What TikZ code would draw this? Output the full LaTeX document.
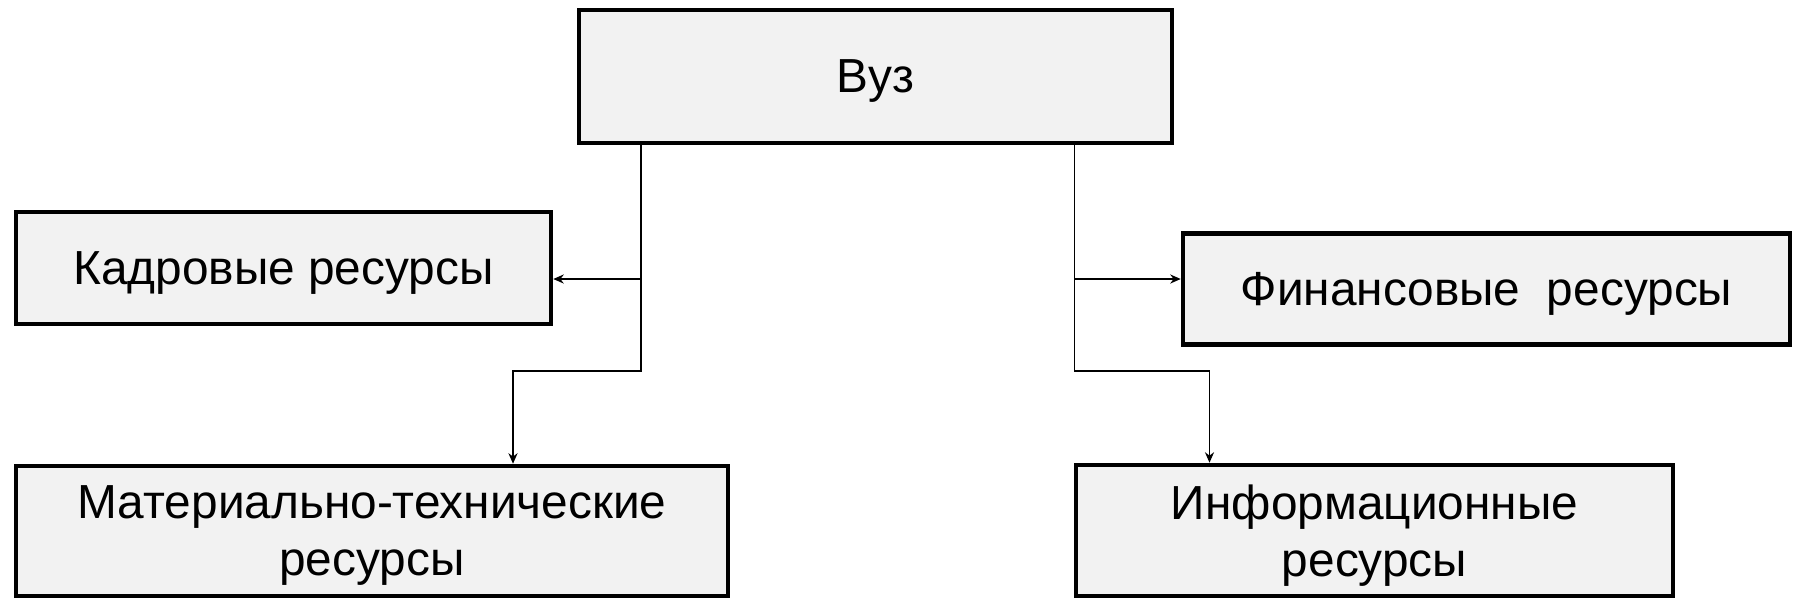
\documentclass[tikz,border=0pt]{standalone}
\usepackage{fontspec}
\setmainfont{Liberation Sans}
\usepackage{xcolor}
\usepackage{tikz}
\usetikzlibrary{arrows.meta,calc}
\definecolor{boxgray}{RGB}{242,242,242}
\tikzstyle{resbox} = [rectangle, draw, line width=1.3pt, fill=boxgray, align=center, inner sep=2pt, text depth=0pt, font=\fontsize{13.6}{16.2}\selectfont]
\tikzstyle{link} = [-{Stealth[length=3pt,width=2.6pt]}, line width=0.35pt]

\begin{document}
\begin{tikzpicture}
    \useasboundingbox (0,0) rectangle (17.95,6.02);
    % University
    \node[resbox, minimum width=5.93cm, minimum height=1.33cm] (vuz) at (8.755,5.255) {Вуз};
    % Resources
    \node[resbox, minimum width=5.35cm, minimum height=1.12cm] (kadry) at (2.835,3.34) {Кадровые ресурсы};
    \node[resbox, minimum width=6.07cm, minimum height=1.105cm] (finansy) at (14.865,3.13) {Финансовые\ \ ресурсы};
    \node[resbox, minimum width=7.12cm, minimum height=1.30cm] (mtb) at (3.72,0.71) {Материально-технические\\ресурсы};
    \node[resbox, minimum width=5.97cm, minimum height=1.31cm] (inform) at (13.745,0.715) {Информационные\\ресурсы};

    % Junctions
    \coordinate (lsplit) at (6.41,3.23);
    \coordinate (lbend) at (6.41,2.31);
    \coordinate (ldrop) at (5.13,2.31);
    \coordinate (rsplit) at (10.745,3.23);
    \coordinate (rbend) at (10.745,2.31);
    \coordinate (rdrop) at (12.095,2.31);

    % Connectors
    \draw[link] (vuz.south -| lsplit) -- (lsplit) -- (kadry.east |- lsplit);
    \draw[link] (lsplit) -- (lbend) -- (ldrop) -- (mtb.north -| ldrop);
    \draw[link] (vuz.south -| rsplit) -- (rsplit) -- (finansy.west |- rsplit);
    \draw[link] (rsplit) -- (rbend) -- (rdrop) -- (inform.north -| rdrop);
\end{tikzpicture}
\end{document}
